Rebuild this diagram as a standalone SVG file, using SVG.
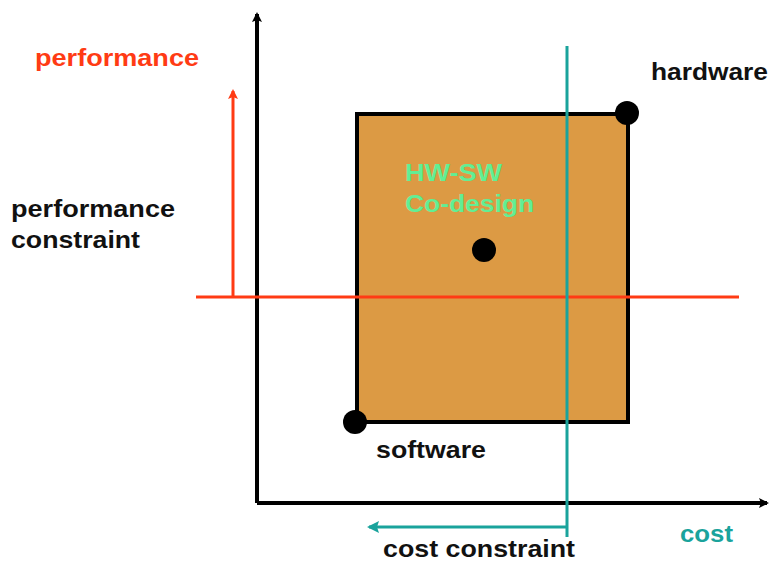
<svg xmlns="http://www.w3.org/2000/svg" width="769" height="563" viewBox="0 0 769 563">
  <style>
    text { font-family: "Liberation Sans", Arial, sans-serif; font-weight: bold; font-size: 24px; }
    .dark { fill: #111111; }
    .red { fill: #FF3B14; }
    .teal { fill: #1AA39C; }
    .green { fill: #62EE94; }
    .axis { stroke: #000000; stroke-width: 4; fill: none; }
    .dot { fill: #000000; }
  </style>
  <defs>
    <marker id="headBlack" markerWidth="10" markerHeight="10" refX="8" refY="5" orient="auto" markerUnits="userSpaceOnUse">
      <path d="M0,0 L10,5 L0,10 L2,5 Z" fill="#000000"/>
    </marker>
    <marker id="headRed" markerWidth="10" markerHeight="10" refX="8" refY="5" orient="auto" markerUnits="userSpaceOnUse">
      <path d="M0,0 L10,5 L0,10 L2,5 Z" fill="#FF3B14"/>
    </marker>
    <marker id="headTeal" markerWidth="12" markerHeight="12" refX="10" refY="6" orient="auto" markerUnits="userSpaceOnUse">
      <path d="M0,0 L12,6 L0,12 L2,6 Z" fill="#1AA39C"/>
    </marker>
  </defs>

  <!-- design space region -->
  <g id="region">
    <rect x="357" y="114" width="271" height="308" fill="#DC9A44" stroke="#000000" stroke-width="4"/>
    <text class="green" x="405" y="181" textLength="97" lengthAdjust="spacingAndGlyphs">HW-SW</text>
    <text class="green" x="405" y="212" textLength="129" lengthAdjust="spacingAndGlyphs">Co-design</text>
  </g>

  <g id="connectors">
    <!-- axes -->
    <line class="axis" x1="257" y1="503" x2="257" y2="14" marker-end="url(#headBlack)"/>
    <line class="axis" x1="257" y1="503" x2="767" y2="503" marker-end="url(#headBlack)"/>
    <!-- performance constraint -->
    <line x1="196" y1="297" x2="739" y2="297" stroke="#FF3B14" stroke-width="3"/>
    <line x1="233" y1="297" x2="233" y2="91" stroke="#FF3B14" stroke-width="3" marker-end="url(#headRed)"/>
    <!-- cost constraint -->
    <line x1="567" y1="46" x2="567" y2="537" stroke="#1AA39C" stroke-width="3"/>
    <line x1="567" y1="527" x2="369" y2="527" stroke="#1AA39C" stroke-width="3" marker-end="url(#headTeal)"/>
  </g>

  <g id="hardware">
    <circle class="dot" cx="627" cy="113" r="12"/>
    <text class="dark" x="651" y="80" textLength="117" lengthAdjust="spacingAndGlyphs">hardware</text>
  </g>

  <g id="software">
    <circle class="dot" cx="355" cy="422" r="12"/>
    <text class="dark" x="376" y="458" textLength="110" lengthAdjust="spacingAndGlyphs">software</text>
  </g>

  <g id="codesign-point">
    <circle class="dot" cx="484" cy="250" r="12"/>
  </g>

  <g id="labels">
    <text class="red" x="35" y="66" textLength="164" lengthAdjust="spacingAndGlyphs">performance</text>
    <text class="dark" x="11" y="217" textLength="164" lengthAdjust="spacingAndGlyphs">performance</text>
    <text class="dark" x="11" y="248" textLength="129" lengthAdjust="spacingAndGlyphs">constraint</text>
    <text class="teal" x="680" y="542" textLength="53" lengthAdjust="spacingAndGlyphs">cost</text>
    <text class="dark" x="383" y="557" textLength="192" lengthAdjust="spacingAndGlyphs">cost constraint</text>
  </g>
</svg>
